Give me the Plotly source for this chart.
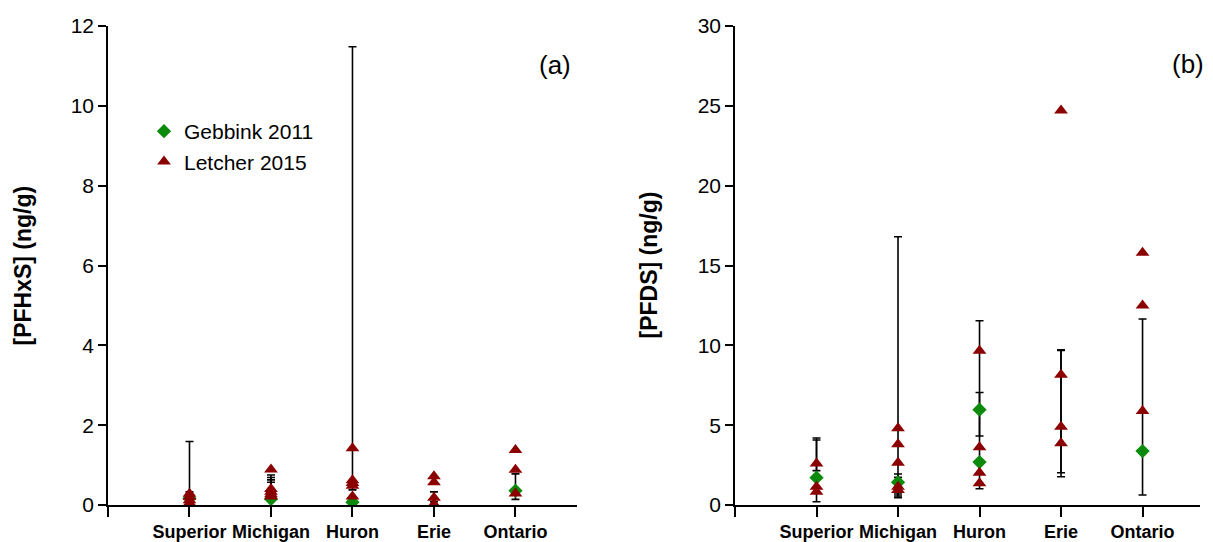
import plotly.graph_objects as go

W, H = 1213, 542

categories = ["Superior", "Michigan", "Huron", "Erie", "Ontario"]

# ---- PFHxS (ng/g) ----
gebbink_pfhxs_site = ["Superior", "Michigan", "Huron", "Ontario"]
gebbink_pfhxs_val = [0.17, 0.15, 0.07, 0.36]
gebbink_pfhxs_low = [0.04, 0.12, None, 0.14]
gebbink_pfhxs_high = [1.59, 0.75, None, 0.78]

letcher_pfhxs_site = ["Superior", "Superior", "Superior", "Superior",
                      "Michigan", "Michigan", "Michigan", "Michigan", "Michigan",
                      "Huron", "Huron", "Huron", "Huron", "Huron",
                      "Erie", "Erie", "Erie", "Erie",
                      "Ontario", "Ontario", "Ontario"]
letcher_pfhxs_val = [0.28, 0.20, 0.12, 0.05,
                     0.89, 0.40, 0.33, 0.27, 0.21,
                     1.42, 0.62, 0.55, 0.48, 0.21,
                     0.72, 0.57, 0.18, 0.02,
                     1.38, 0.88, 0.29]
letcher_pfhxs_low = [None, None, 0.04, None,
                     None, 0.30, 0.26, 0.20, None,
                     None, None, 0.38, None, None,
                     None, None, 0.08, None,
                     None, None, None]
letcher_pfhxs_high = [None, None, 0.33, None,
                      None, 0.69, 0.63, 0.57, None,
                      None, None, 11.48, None, None,
                      None, None, 0.33, None,
                      None, None, None]

# ---- PFDS (ng/g) ----
gebbink_pfds_site = ["Superior", "Michigan", "Huron", "Huron", "Ontario"]
gebbink_pfds_val = [1.71, 1.42, 5.97, 2.69, 3.38]
gebbink_pfds_low = [0.20, 0.56, 4.32, None, 0.63]
gebbink_pfds_high = [4.20, 1.94, 7.05, None, 11.65]

letcher_pfds_site = ["Superior", "Superior", "Superior",
                     "Michigan", "Michigan", "Michigan", "Michigan", "Michigan",
                     "Huron", "Huron", "Huron", "Huron",
                     "Erie", "Erie", "Erie", "Erie",
                     "Ontario", "Ontario", "Ontario"]
letcher_pfds_val = [2.60, 1.15, 0.83,
                    4.80, 3.80, 2.65, 1.15, 0.94,
                    9.66, 3.61, 2.02, 1.36,
                    24.70, 8.16, 4.90, 3.86,
                    15.80, 12.50, 5.89]
letcher_pfds_low = [2.15, None, None,
                    0.46, None, None, 0.69, None,
                    1.02, None, None, None,
                    None, 1.77, 2.02, None,
                    None, None, None]
letcher_pfds_high = [4.07, None, None,
                     16.80, None, None, 1.73, None,
                     11.54, None, None, None,
                     None, 9.68, 9.72, None,
                     None, None, None]

FONT = "Liberation Sans, Arial, sans-serif"
GREEN = "#0b8a0b"
DARKRED = "#8b0000"
pos = {c: i + 1 for i, c in enumerate(categories)}

fig = go.Figure()


def add_series(site, val, low, high, name, symbol, color, size, xa, ya, legend):
    # whiskers first (only points that carry a range), then the markers on top
    bx, by, bp, bm = [], [], [], []
    for s, v, lo, hi in zip(site, val, low, high):
        if lo is None or hi is None:
            continue
        bx.append(pos[s])
        by.append(v)
        bp.append(hi - v)
        bm.append(v - lo)
    if bx:
        fig.add_trace(go.Scatter(
            x=bx, y=by, mode="markers", xaxis=xa, yaxis=ya,
            marker=dict(size=1, opacity=0), showlegend=False, hoverinfo="skip",
            error_y=dict(type="data", symmetric=False, array=bp, arrayminus=bm,
                         color="black", thickness=1.6, width=4)))
    return go.Scatter(
        x=[pos[s] for s in site], y=val, mode="markers", name=name,
        xaxis=xa, yaxis=ya, showlegend=legend, legendgroup=name,
        marker=dict(symbol=symbol, size=size, color=color, line=dict(width=0)))


marks = []
marks.append(add_series(gebbink_pfhxs_site, gebbink_pfhxs_val, gebbink_pfhxs_low,
                        gebbink_pfhxs_high, "Gebbink 2011", "diamond", GREEN, 11, "x", "y", True))
marks.append(add_series(letcher_pfhxs_site, letcher_pfhxs_val, letcher_pfhxs_low,
                        letcher_pfhxs_high, "Letcher 2015", "triangle-up", DARKRED, 12, "x", "y", True))
marks.append(add_series(gebbink_pfds_site, gebbink_pfds_val, gebbink_pfds_low,
                        gebbink_pfds_high, "Gebbink 2011", "diamond", GREEN, 11, "x2", "y2", False))
marks.append(add_series(letcher_pfds_site, letcher_pfds_val, letcher_pfds_low,
                        letcher_pfds_high, "Letcher 2015", "triangle-up", DARKRED, 12, "x2", "y2", False))
for m in marks:
    fig.add_trace(m)

ydom = [37 / H, 516 / H]
xa_common = dict(
    tickvals=[0, 1, 2, 3, 4, 5], ticktext=[""] + categories,
    showline=True, linecolor="black", linewidth=1.6,
    ticks="outside", ticklen=10, tickwidth=1.6, tickcolor="black",
    tickfont=dict(family=FONT, size=18, color="black", weight="bold"),
    showgrid=False, zeroline=False, fixedrange=True, automargin=False)
ya_common = dict(
    showline=True, linecolor="black", linewidth=1.6,
    ticks="outside", ticklen=8, tickwidth=1.6, tickcolor="black",
    tickfont=dict(family=FONT, size=21, color="black"),
    showgrid=False, zeroline=False, domain=ydom, automargin=False)

fig.update_layout(
    width=W, height=H, autosize=False,
    margin=dict(l=0, r=0, t=0, b=0, autoexpand=False),
    paper_bgcolor="white", plot_bgcolor="white",
    font=dict(family=FONT, color="black"),
    xaxis=dict(domain=[108 / W, 577 / W], range=[0, 5.755], anchor="y", **xa_common),
    yaxis=dict(range=[0, 12], dtick=2, anchor="x", **ya_common),
    xaxis2=dict(domain=[735 / W, 1200 / W], range=[0, 5.705], anchor="y2", **xa_common),
    yaxis2=dict(range=[0, 30], dtick=5, anchor="x2", **ya_common),
    legend=dict(x=144 / W, y=(H - 111) / H, xanchor="left", yanchor="top",
                bgcolor="rgba(0,0,0,0)", font=dict(family=FONT, size=21, color="black"),
                tracegroupgap=0),
    annotations=[
        dict(text="[PFHxS] (ng/g)", x=22 / W, y=(H - 265.5) / H, xref="paper", yref="paper",
             textangle=-90, showarrow=False, xanchor="center", yanchor="middle",
             font=dict(family=FONT, size=23, color="black", weight="bold")),
        dict(text="[PFDS] (ng/g)", x=648 / W, y=(H - 265.5) / H, xref="paper", yref="paper",
             textangle=-90, showarrow=False, xanchor="center", yanchor="middle",
             font=dict(family=FONT, size=23, color="black", weight="bold")),
        dict(text="(a)", x=555 / W, y=(H - 65) / H, xref="paper", yref="paper",
             showarrow=False, xanchor="center", yanchor="middle",
             font=dict(family=FONT, size=26, color="black")),
        dict(text="(b)", x=1188 / W, y=(H - 64) / H, xref="paper", yref="paper",
             showarrow=False, xanchor="center", yanchor="middle",
             font=dict(family=FONT, size=26, color="black")),
    ],
)

fig.write_html("out.html", config={"displayModeBar": False})
